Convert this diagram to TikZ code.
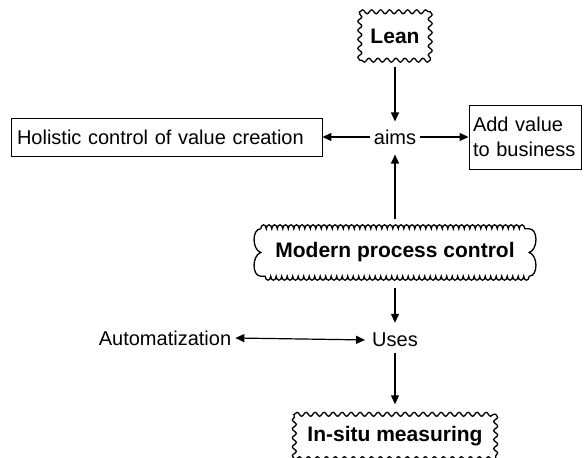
\documentclass[tikz,border=0pt]{standalone}
\usepackage{fontspec}
\setmainfont{Liberation Sans}
\usetikzlibrary{arrows.meta,decorations.pathmorphing}

\begin{document}
\begin{tikzpicture}[x=1pt,y=1pt,
  txt/.style={font=\fontsize{20}{25}\selectfont, inner sep=4pt},
  ttl/.style={font=\fontsize{21}{24}\selectfont\bfseries, inner sep=0pt},
  framed/.style={draw, line width=0.9pt},
  edge/.style={line width=1.3pt},
  wave/.style={decoration={snake, segment length=9pt, amplitude=2pt}},
  puff/.style={decoration={bumps, segment length=11pt, amplitude=4pt}},
  link/.style={line width=1.2pt, -{Triangle[length=9pt,width=8pt]}},
  twoway/.style={line width=1.2pt, {Triangle[length=9pt,width=8pt]}-{Triangle[length=9pt,width=8pt]}},
]
\useasboundingbox (0,0) rectangle (587,458);

% headings with decorated outlines
\node[ttl, minimum width=70pt, minimum height=48pt] (lean) at (395,422) {Lean};
\draw[edge] (lean.north west)
  decorate[wave]{-- (lean.north east)}
  decorate[wave]{-- (lean.south east)}
  decorate[wave]{-- (lean.south west)}
  decorate[wave]{-- (lean.north west)} -- cycle;

\node[ttl, minimum width=268pt, minimum height=47pt] (modern) at (395,205.5) {Modern process control};
\draw[edge] (modern.north west)
  decorate[puff]{-- (modern.north east)}
  .. controls +(9,0) and +(9,3) .. (modern.east)
  .. controls +(9,-3) and +(9,0) .. (modern.south east)
  decorate[puff]{-- (modern.south west)}
  .. controls +(-9,0) and +(-9,-3) .. (modern.west)
  .. controls +(-9,3) and +(-9,0) .. (modern.north west);

\node[ttl, minimum width=201pt, minimum height=44pt] (insitu) at (395,21.5) {In-situ measuring};
\draw[edge] (insitu.north west)
  decorate[wave]{-- (insitu.north east)}
  decorate[wave]{-- (insitu.south east)}
  decorate[wave]{-- (insitu.south west)}
  decorate[wave]{-- (insitu.north west)} -- cycle;

% plain labels and boxes
\node[txt] (aims) at (395,321) {aims};
\node[txt, framed, text width=299pt, inner xsep=6pt, align=left, minimum height=38pt] (holistic) at (166.5,321) {Holistic control of value creation};
\node[txt, framed, text width=104pt, inner xsep=4pt, align=left, minimum height=64pt] (addvalue) at (525,321) {Add value\\to business};
\node[txt] (uses) at (395,118) {Uses};
\node[txt] (auto) at (165,120) {Automatization};

% connectors
\draw[link, shorten <=7pt, shorten >=4pt] (lean.south) -- (aims.north);
\draw[link] (aims.west) -- (aims.west -| holistic.east);
\draw[link] (aims.east) -- (aims.east -| addvalue.west);
\draw[link, shorten <=10pt, shorten >=6pt] (modern.north) -- (aims.south);
\draw[link, shorten <=12pt, shorten >=6pt] (modern.south) -- (uses.north);
\draw[twoway, shorten >=3pt] (auto.east) -- (uses.west);
\draw[link, shorten <=2pt, shorten >=10pt] (uses.south) -- (insitu.north);
\end{tikzpicture}
\end{document}
